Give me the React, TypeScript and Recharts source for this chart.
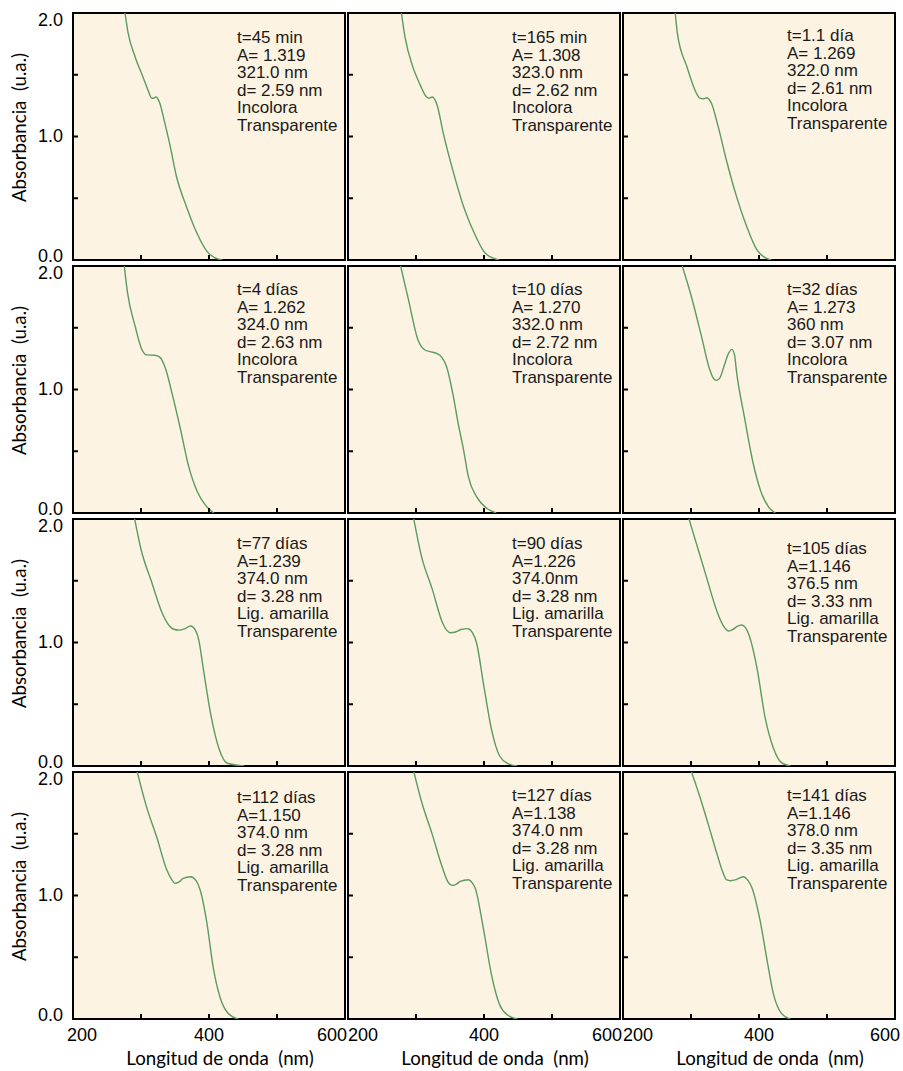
import { CartesianGrid, Line, LineChart, ReferenceArea, XAxis, YAxis } from 'recharts'

type Pt = [number, number]

const wavelengthTicks = [200, 300, 400, 500, 600]
const absorbanceTicks = [0, 0.5, 1, 1.5, 2]
const labeledWavelengths = [200, 400, 600]
const labeledAbsorbances = [0, 1, 2]

// [nm, absorbance]
const spec45min: Pt[] = [[276, 2.02], [281, 1.84], [291, 1.65], [303, 1.48], [310, 1.38], [316, 1.31], [319, 1.31], [322, 1.32], [327, 1.28], [335, 1.11], [343, 0.92], [352, 0.68], [367, 0.43], [382, 0.22], [397, 0.07], [408, 0.02], [419, 0]]
const spec165min: Pt[] = [[278, 2.02], [284, 1.8], [295, 1.57], [306, 1.42], [314, 1.33], [319, 1.31], [324, 1.32], [331, 1.255], [340, 1.03], [354, 0.73], [372, 0.4], [388, 0.19], [402, 0.054], [422, 0]]
const spec1_1dia: Pt[] = [[276.5, 2.02], [280, 1.835], [294, 1.565], [308, 1.35], [313, 1.31], [318, 1.305], [323, 1.314], [330, 1.269], [340, 1.08], [352, 0.81], [367, 0.513], [382, 0.27], [397, 0.081], [411, 0.013], [418, 0]]
const spec4dias: Pt[] = [[275, 2.02], [280, 1.79], [292, 1.5], [300, 1.34], [308, 1.28], [320, 1.277], [328, 1.26], [336, 1.17], [346, 0.96], [358, 0.68], [370, 0.38], [383, 0.17], [395, 0.062], [407, 0]]
const spec10dias: Pt[] = [[276.5, 2.02], [289, 1.725], [303, 1.4], [313, 1.32], [322, 1.305], [330, 1.293], [338, 1.26], [345, 1.185], [355, 0.942], [362, 0.726], [370, 0.51], [377, 0.294], [389, 0.132], [404, 0.038], [418, 0]]
const spec32dias: Pt[] = [[286, 2.02], [300, 1.763], [315, 1.44], [327, 1.17], [333, 1.09], [337, 1.074], [342, 1.09], [349, 1.196], [355, 1.29], [360, 1.325], [364, 1.28], [367, 1.142], [379, 0.764], [391, 0.413], [403, 0.17], [414, 0.05], [424, 0]]
const spec77dias: Pt[] = [[290, 2.02], [300, 1.755], [316, 1.484], [331, 1.241], [341, 1.14], [348, 1.107], [356, 1.1], [364, 1.11], [373, 1.134], [380, 1.1], [385, 1.02], [391, 0.81], [403, 0.405], [415, 0.135], [427, 0.022], [452, 0]]
const spec90dias: Pt[] = [[296, 2.02], [308, 1.7], [324, 1.43], [339, 1.16], [345, 1.1], [351, 1.079], [358, 1.085], [366, 1.105], [376, 1.112], [383, 1.08], [389, 0.998], [399, 0.674], [411, 0.297], [423, 0.081], [435, 0.02], [449, 0]]
const spec105dias: Pt[] = [[296, 2.02], [308, 1.8], [323, 1.525], [338, 1.255], [347, 1.14], [355, 1.093], [362, 1.107], [368, 1.13], [374.5, 1.142], [380, 1.12], [384, 1.079], [397, 0.795], [409, 0.391], [421, 0.148], [433, 0.027], [446, 0]]
const spec112dias: Pt[] = [[293.6, 2.02], [308, 1.72], [323, 1.476], [338, 1.206], [345, 1.13], [350, 1.098], [356, 1.11], [362, 1.139], [373, 1.152], [381, 1.12], [387, 1.045], [397, 0.775], [406, 0.424], [416, 0.18], [428, 0.046], [443, 0]]
const spec127dias: Pt[] = [[296, 2.02], [308, 1.763], [324, 1.493], [339, 1.223], [347, 1.11], [353, 1.082], [359, 1.09], [365, 1.115], [377, 1.128], [383, 1.1], [387, 1.06], [399, 0.736], [411, 0.358], [423, 0.116], [435, 0.03], [449, 0]]
const spec141dias: Pt[] = [[299.5, 2.02], [313, 1.8], [325, 1.584], [338, 1.341], [346, 1.2], [352.5, 1.126], [358, 1.12], [365, 1.126], [377, 1.152], [384, 1.12], [389, 1.071], [401.5, 0.8], [411, 0.504], [421, 0.208], [433, 0.046], [446, 0]]

const spectra = [
  spec45min, spec165min, spec1_1dia,
  spec4dias, spec10dias, spec32dias,
  spec77dias, spec90dias, spec105dias,
  spec112dias, spec127dias, spec141dias,
]

const notes = [
  ['t=45 min', 'A= 1.319', '321.0 nm', 'd= 2.59 nm', 'Incolora', 'Transparente'],
  ['t=165 min', 'A= 1.308', '323.0 nm', 'd= 2.62 nm', 'Incolora', 'Transparente'],
  ['t=1.1 día', 'A= 1.269', '322.0 nm', 'd= 2.61 nm', 'Incolora', 'Transparente'],
  ['t=4 días', 'A= 1.262', '324.0 nm', 'd= 2.63 nm', 'Incolora', 'Transparente'],
  ['t=10 días', 'A= 1.270', '332.0 nm', 'd= 2.72 nm', 'Incolora', 'Transparente'],
  ['t=32 días', 'A= 1.273', '360 nm', 'd= 3.07 nm', 'Incolora', 'Transparente'],
  ['t=77 días', 'A=1.239', '374.0 nm', 'd= 3.28 nm', 'Lig. amarilla', 'Transparente'],
  ['t=90 días', 'A=1.226', '374.0nm', 'd= 3.28 nm', 'Lig. amarilla', 'Transparente'],
  ['t=105 días', 'A=1.146', '376.5 nm', 'd= 3.33 nm', 'Lig. amarilla', 'Transparente'],
  ['t=112 días', 'A=1.150', '374.0 nm', 'd= 3.28 nm', 'Lig. amarilla', 'Transparente'],
  ['t=127 días', 'A=1.138', '374.0 nm', 'd= 3.28 nm', 'Lig. amarilla', 'Transparente'],
  ['t=141 días', 'A=1.146', '378.0 nm', 'd= 3.35 nm', 'Lig. amarilla', 'Transparente'],
]

// layout
const COL_X = [73, 348, 623]
const ROW_Y = [13, 266, 519, 772]
const PW = 272
const PH = 247
const ML = 73
const MT = 13
const MR = 12
const MB = 58
const NOTE_DY = [24, 24, 22, 23, 23, 23, 24, 24, 29, 25, 23, 23]

const ARIAL = "'Liberation Sans', Arial, sans-serif"
const TITLE_FONT = "Lato, 'Open Sans', sans-serif"
const BG = '#fdf3e2'
const GREEN = '#5b9b5f'

const makeXTick = (row: number, col: number) => (props: any) => {
  const { x, payload } = props
  const v = payload.value
  const base = MT + PH
  let label = null
  if (row === 3 && labeledWavelengths.includes(v)) {
    let anchor: 'start' | 'middle' | 'end' = 'middle'
    let tx = x
    if (v === 200) {
      anchor = 'start'
      tx = x + (col === 0 ? -6 : 0)
    } else if (v === 600) {
      anchor = 'end'
      tx = x + (col === 2 ? 5 : 2)
    }
    label = (
      <text x={tx} y={base + 21.5} textAnchor={anchor} fontFamily={ARIAL} fontSize={18} fill="#000">
        {v}
      </text>
    )
  }
  return (
    <g>
      {v > 200 && v < 600 && <line x1={x} x2={x} y1={base} y2={base - 5} stroke="#000" strokeWidth={2} />}
      {label}
    </g>
  )
}

const makeYTick = (col: number) => (props: any) => {
  const { y, payload } = props
  const v = payload.value
  let label = null
  if (col === 0 && labeledAbsorbances.includes(v)) {
    const shift = v === 2 ? 6 : v === 0 ? -4.5 : -1.5
    label = (
      <text x={ML - 10} y={y + shift + 6.5} textAnchor="end" fontFamily={ARIAL} fontSize={18} fill="#000">
        {v.toFixed(1)}
      </text>
    )
  }
  return (
    <g>
      {v > 0 && v < 2 && <line x1={ML} x2={ML + 5} y1={y} y2={y} stroke="#000" strokeWidth={2} />}
      {label}
    </g>
  )
}

const Panel = ({ index }: { index: number }) => {
  const row = Math.floor(index / 3)
  const col = index % 3
  const data = spectra[index].map(([nm, abs]) => ({ nm, abs }))
  const lines = notes[index]
  const noteX = ML + 164
  return (
    <div style={{ position: 'absolute', left: COL_X[col] - ML, top: ROW_Y[row] - MT }}>
      <LineChart
        width={ML + PW + MR}
        height={MT + PH + MB}
        data={data}
        margin={{ top: MT, right: MR, bottom: MB - 1, left: ML - 1 }}
      >
        <CartesianGrid horizontal={false} vertical={false} fill={BG} />
        <XAxis
          type="number"
          dataKey="nm"
          domain={[200, 600]}
          ticks={wavelengthTicks}
          interval={0}
          height={1}
          axisLine={false}
          tickLine={false}
          tick={makeXTick(row, col)}
          label={
            row === 3
              ? () => (
                  <text x={ML + PW / 2 + 11} y={MT + PH + 46} textAnchor="middle" fontFamily={TITLE_FONT} fontSize={18.7} fill="#000">
                    {'Longitud de onda\u00a0 (nm)'}
                  </text>
                )
              : undefined
          }
        />
        <YAxis
          type="number"
          domain={[0, 2]}
          ticks={absorbanceTicks}
          interval={0}
          allowDataOverflow
          width={1}
          axisLine={false}
          tickLine={false}
          tick={makeYTick(col)}
          label={
            col === 0
              ? () => (
                  <text
                    x={26}
                    y={MT + PH / 2 - 9}
                    transform={`rotate(-90 26 ${MT + PH / 2 - 9})`}
                    textAnchor="middle"
                    fontFamily={TITLE_FONT}
                    fontSize={18.7}
                    fill="#000"
                  >
                    {'Absorbancia\u00a0 (u.a.)'}
                  </text>
                )
              : undefined
          }
        />
        <ReferenceArea
          x1={200}
          x2={600}
          y1={0}
          y2={2}
          fill="none"
          stroke="#000"
          strokeWidth={2}
          label={() => (
            <text x={noteX} y={MT + NOTE_DY[index] + 6} fontFamily={ARIAL} fontSize={17} fill="#1a1a1a">
              {lines.map((l, i) => (
                <tspan key={i} x={noteX} dy={i === 0 ? 0 : 17.5}>
                  {l}
                </tspan>
              ))}
            </text>
          )}
        />
        <Line type="monotone" dataKey="abs" stroke={GREEN} strokeWidth={1.4} dot={false} isAnimationActive={false} />
      </LineChart>
    </div>
  )
}

export default function App() {
  return (
    <div style={{ position: 'absolute', left: 0, top: 0, width: 903, height: 1071, background: '#fff', overflow: 'hidden' }}>
      {spectra.map((_, i) => (
        <Panel key={i} index={i} />
      ))}
    </div>
  )
}
